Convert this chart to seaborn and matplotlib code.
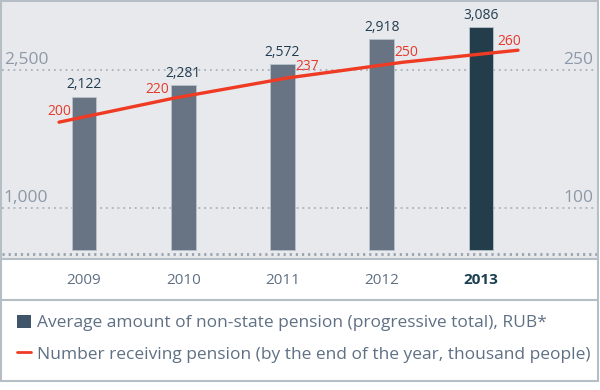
import numpy as np
import pandas as pd
import matplotlib
matplotlib.use("Agg")
import matplotlib.pyplot as plt
import seaborn as sns
from matplotlib.patches import Patch, Rectangle
from matplotlib.lines import Line2D
import matplotlib.transforms as mtrans

# data
years = ["2009", "2010", "2011", "2012", "2013"]
avg_pension = [2122, 2281, 2572, 2918, 3086]      # RUB, bars
people = [200, 220, 237, 250, 260]                # thousand, line
left_ticks = [1000, 2500]
right_ticks = [100, 250]
legend_labels = ["Average amount of non-state pension (progressive total), RUB*",
                 "Number receiving pension (by the end of the year, thousand people)"]

# colours
bg = "#e8e9ed"
bar_col = "#637487"
bar_last = "#1c3f52"
red = "#ef3b24"
grid_col = "#a9b1ba"
tick_col = "#8d99a6"
text_col = "#5f7084"
border_col = "#b5bdc5"

sns.set_theme(style="white")
plt.rcParams["font.family"] = ["Open Sans", "DejaVu Sans"]

W, H = 600, 390
fig = plt.figure(figsize=(W / 100, H / 100), dpi=100)
fig.patch.set_facecolor("white")

def fbox(x0, y0, x1, y1):
    # pixel box (top-left origin) -> figure fraction rect
    return [x0 / W, 1 - y1 / H, (x1 - x0) / W, (y1 - y0) / H]

rect = fbox(2, 2, 598, 259)

# axes for gridlines + left ticks
ax = fig.add_axes(rect)
ax.set_facecolor(bg)
ax.set_ylim(440, 3235)
ax.set_xlim(0, 1)
tr = mtrans.blended_transform_factory(ax.transAxes, ax.transData)
for v in left_ticks:
    ax.axhline(v, color=grid_col, lw=1.3, ls=(0, (1, 2.2)), zorder=1)
    ax.text(0.003, v + 12, f"{v:,}", transform=tr,
            ha="left", va="bottom", fontsize=12.5, color=tick_col)
for v in right_ticks:
    ax.text(0.992, v * 10 + 12, f"{v}", transform=tr,
            ha="right", va="bottom", fontsize=12.5, color=tick_col)
# dotted baseline
ax.plot([0, 1], [0.02, 0.02], transform=ax.transAxes, color="#9aa4ae",
        lw=2.0, ls=(0, (0.8, 1.4)), solid_capstyle="butt", zorder=2)
ax.set_xticks([])
ax.set_yticks([])
for s in ["top", "left", "right"]:
    ax.spines[s].set_visible(False)
ax.spines["bottom"].set_color(border_col)
ax.spines["bottom"].set_linewidth(1.5)

# bars
axb = fig.add_axes(rect)
axb.patch.set_alpha(0)
df = pd.DataFrame({"year": years, "amount": avg_pension})
pal = [bar_col] * (len(years) - 1) + [bar_last]
sns.barplot(data=df, x="year", y="amount", hue="year", palette=pal, legend=False,
            width=0.25, edgecolor="#b9c2cb", linewidth=0.6, ax=axb, zorder=3)
axb.set_xlim(-0.826, 5.179)
axb.set_ylim(-125, 3431)
for c in axb.containers:
    axb.bar_label(c, labels=[f"{int(v):,}" for v in c.datavalues], padding=3,
                  fontsize=10, color="#233d50")
axb.set_xticks(range(len(years)))
axb.set_xticklabels(years)
axb.tick_params(axis="x", length=0, pad=10, labelsize=11, labelcolor=text_col)
axb.get_xticklabels()[-1].set_fontweight("bold")
axb.get_xticklabels()[-1].set_color(bar_last)
axb.set_yticks([])
axb.set_xlabel("")
axb.set_ylabel("")
sns.despine(ax=axb, left=True, bottom=True)

# line (own scale)
axl = fig.add_axes(rect)
axl.patch.set_alpha(0)
xs = np.arange(len(people))
sns.lineplot(x=xs, y=people, color=red, lw=2.4, ax=axl, zorder=4)
axl.set_xlim(-0.497, 4.697)
axl.set_ylim(85.9, 300.2)
offsets = [(0, 11), (-17, 9), (19, 11.5), (3.5, 10), (-9, 9)]
for x, v, (dx, dy) in zip(xs, people, offsets):
    axl.annotate(f"{v}", (x, v), xytext=(dx, dy), textcoords="offset pixels",
                 ha="center", va="center", fontsize=10, color="#e5392b")
axl.set_axis_off()

# frame and separator
fig.add_artist(Rectangle((1 / W, 1 - 381 / H), 597 / W, 380 / H, transform=fig.transFigure,
                         fill=False, edgecolor=border_col, lw=1.5))
fig.add_artist(Line2D([1 / W, 598 / W], [1 - 300 / H] * 2, transform=fig.transFigure,
                      color=border_col, lw=1.5))

# legend
handles = [Patch(facecolor="#3f566a", edgecolor="none"),
           Line2D([0], [0], color=red, lw=2)]
fig.legend(handles, legend_labels, loc="upper left", bbox_to_anchor=(10 / W, 1 - 308 / H),
           frameon=False, fontsize=12.5, labelcolor=text_col, handlelength=0.8,
           handleheight=0.75, handletextpad=0.35, labelspacing=0.85, borderaxespad=0)

fig.savefig("out.png", dpi=100)
